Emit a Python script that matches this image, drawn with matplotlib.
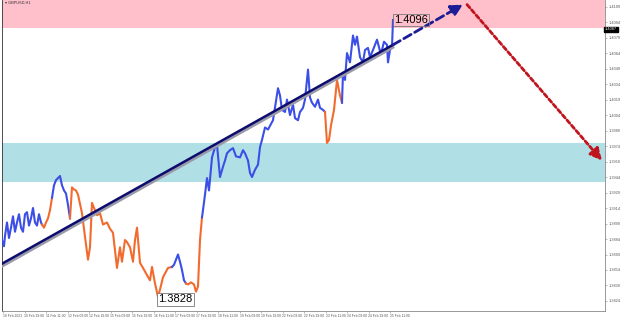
import matplotlib
matplotlib.use("Agg")
import matplotlib.pyplot as plt
import numpy as np

plt.rcParams['font.family'] = ['Liberation Sans', 'DejaVu Sans']

# hourly bar number and close price
bars = [0, 2, 4, 5, 7, 9, 11, 13, 15, 17, 19, 21, 23, 25, 27, 29, 31, 33, 35, 37, 39, 41,
        42, 44, 46, 48, 50, 52, 54, 56, 58, 60, 62, 64, 66, 68, 70, 72, 74, 76, 78, 82, 85, 88,
        90, 92, 97, 100, 103, 107, 110, 113, 117, 120, 122, 125, 127, 130, 133, 135, 137, 140,
        143, 147, 150, 152, 155, 158, 160,
        163, 168, 172, 174, 178, 180, 182, 184, 186, 188, 191, 194, 196, 198, 200, 202, 203,
        205, 207, 209, 212, 215, 217, 220, 223, 225, 227, 230, 233, 236, 240, 243, 245, 248,
        250, 252, 255, 258, 260, 262, 265, 268, 273, 278,
        280, 282, 285, 287, 290, 293, 295, 298, 300, 303, 305, 308, 310, 312, 315, 318, 320,
        323, 325, 327, 329, 331, 334, 337, 340,
        342, 343, 345, 347, 350, 353, 355, 357, 360, 363, 365, 368, 370, 373, 375, 377, 380,
        382, 384, 387, 388, 390, 392, 393]
prices = [1.3891, 1.3883, 1.3877, 1.3887, 1.3900, 1.3885, 1.3895, 1.3906, 1.3891, 1.3900,
          1.3908, 1.3895, 1.3891, 1.3908, 1.3910, 1.3897, 1.3904, 1.3914, 1.3900, 1.3897,
          1.3908, 1.3900, 1.3898, 1.3895, 1.3900, 1.3904, 1.3912, 1.3924, 1.3936, 1.3941,
          1.3943, 1.3945, 1.3936, 1.3931, 1.3928, 1.3917, 1.3904, 1.3934, 1.3932, 1.3931,
          1.3927, 1.3909, 1.3886, 1.3864, 1.3876, 1.3919, 1.3907, 1.3909, 1.3898, 1.3900,
          1.3894, 1.3890, 1.3856, 1.3876, 1.3862, 1.3883, 1.3881, 1.3876, 1.3862, 1.3883,
          1.3895, 1.3861, 1.3856, 1.3849, 1.3844, 1.3857, 1.3841, 1.3828, 1.3835,
          1.3847, 1.3856, 1.3857, 1.3859, 1.3869, 1.3862, 1.3854, 1.3844, 1.3841, 1.3840,
          1.3842, 1.3840, 1.3833, 1.3838, 1.3883, 1.3905, 1.3912, 1.3927, 1.3943, 1.3931,
          1.3963, 1.3973, 1.3975, 1.3944, 1.3954, 1.3960, 1.3967, 1.3970, 1.3972, 1.3964,
          1.3963, 1.3970, 1.3967, 1.3960, 1.3948, 1.3944, 1.3951, 1.3956, 1.3973, 1.3980,
          1.3992, 1.3990, 1.3999, 1.4030,
          1.4023, 1.4009, 1.4007, 1.4019, 1.4004, 1.4014, 1.4001, 1.3999, 1.4007, 1.4011,
          1.4019, 1.4048, 1.4021, 1.4016, 1.4012, 1.4019, 1.4011,
          1.4009, 1.4007, 1.3977, 1.3980, 1.3994, 1.4009, 1.4038, 1.4023,
          1.4016, 1.4045, 1.4038, 1.4064, 1.4055, 1.4081, 1.4072, 1.4080, 1.4060, 1.4055,
          1.4067, 1.4069, 1.4060, 1.4067, 1.4072, 1.4077, 1.4066,
          1.4067, 1.4075, 1.4072, 1.4055, 1.4067, 1.4070, 1.4096]
# bars where the wave colour switches (blue / orange alternately)
wave_breaks = [0, 42, 52, 70, 172, 186, 202, 325, 342, 393]

# zones
resist_zone = (1.4088, 1.4116)
support_zone = (1.3939, 1.3977)

# trend line and forecast arrows (bar, price)
trend = [(0, 1.3859), (393, 1.4072)]
trend_ext = [(393, 1.4072), (463, 1.4111)]
forecast = [(467, 1.4111), (602, 1.3960)]

y_ticks = [round(1.4109 - 0.0015 * k, 4) for k in range(20)]
x_ticks = [3 + 21.5 * k for k in range(19)]
x_labels = ['10 Feb 2021', '10 Feb 19:00', '11 Feb 11:00', '12 Feb 03:00', '12 Feb 19:00',
            '15 Feb 03:00', '15 Feb 19:00', '16 Feb 11:00', '17 Feb 03:00', '17 Feb 19:00',
            '18 Feb 11:00', '19 Feb 03:00', '19 Feb 19:00', '22 Feb 03:00', '22 Feb 19:00',
            '23 Feb 11:00', '24 Feb 03:00', '24 Feb 19:00', '25 Feb 11:00']

W, H = 620, 321
fig = plt.figure(figsize=(W / 100, H / 100), dpi=100)
ax = fig.add_axes([2 / W, 10 / H, 603 / W, 311 / H])
ax.set_xlim(2, 605)
ax.set_ylim(1.38143, 1.41154)

ax.axhspan(*resist_zone, color='#ffc0cb', zorder=0, lw=0)
ax.axhspan(*support_zone, color='#b0e0e6', zorder=0, lw=0)

colors = ['#3b4ee6', '#f26b2e']
bars_a = np.array(bars)
prices_a = np.array(prices)
for i in range(len(wave_breaks) - 1):
    m = (bars_a >= wave_breaks[i]) & (bars_a <= wave_breaks[i + 1])
    ax.plot(bars_a[m], prices_a[m], color=colors[i % 2], lw=1.5, zorder=3)

# trend line with grey shadow
tx, ty = zip(*trend)
ax.plot(tx, np.array(ty) - 0.00025, color='#9a9aa8', lw=2, zorder=4)
ax.plot(tx, ty, color='#0c0c6e', lw=1.8, zorder=5)
ax.annotate('', xy=trend_ext[1], xytext=trend_ext[0],
            arrowprops=dict(arrowstyle='-|>,head_length=0.7,head_width=0.35',
                            color='#1c1c96', lw=2, ls=(0, (3, 1.5)), shrinkA=0, shrinkB=0),
            zorder=6)
ax.annotate('', xy=forecast[1], xytext=forecast[0],
            arrowprops=dict(arrowstyle='-|>,head_length=0.7,head_width=0.35',
                            color='#c0141e', lw=2, ls=(0, (1.5, 1)), shrinkA=0, shrinkB=0),
            zorder=6)

box = dict(boxstyle='square,pad=0.12', fc='none', ec='#777777', lw=0.6)
ax.text(394, 1.4096, '1.4096', fontsize=8, va='center', ha='left', bbox=box, zorder=7)
ax.text(158, 1.38255, '1.3828', fontsize=8, va='center', ha='left',
        bbox=dict(boxstyle='square,pad=0.12', fc='white', ec='#777777', lw=0.6), zorder=7)

ax.text(5, 1.41125, '\u25BE GBPUSD,H1', fontsize=2.8, color='#333333', va='center')

ax.yaxis.tick_right()
ax.set_yticks(y_ticks)
ax.set_yticklabels([f'{v:.4f}' for v in y_ticks], fontsize=2.8, color='#555555')
ax.set_xticks(x_ticks)
ax.set_xticklabels(x_labels, fontsize=2.4, color='#555555', ha='left')
ax.tick_params(axis='both', length=1.5, width=0.4, pad=1, colors='#888888',
               labelcolor='#555555')
ax.spines['top'].set_visible(False)
ax.spines['left'].set_color('#333333')
ax.spines['right'].set_color('#888888')
ax.spines['bottom'].set_color('#888888')
for s in ax.spines.values():
    s.set_linewidth(0.6)

# current price marker on the price scale
ax.text(1.0, 1.4087, '1.4087', transform=ax.get_yaxis_transform(), fontsize=2.8,
        color='white', va='center', ha='left',
        bbox=dict(boxstyle='square,pad=0.2', fc='black', ec='black'), clip_on=False)

fig.savefig('out.png', dpi=100)
